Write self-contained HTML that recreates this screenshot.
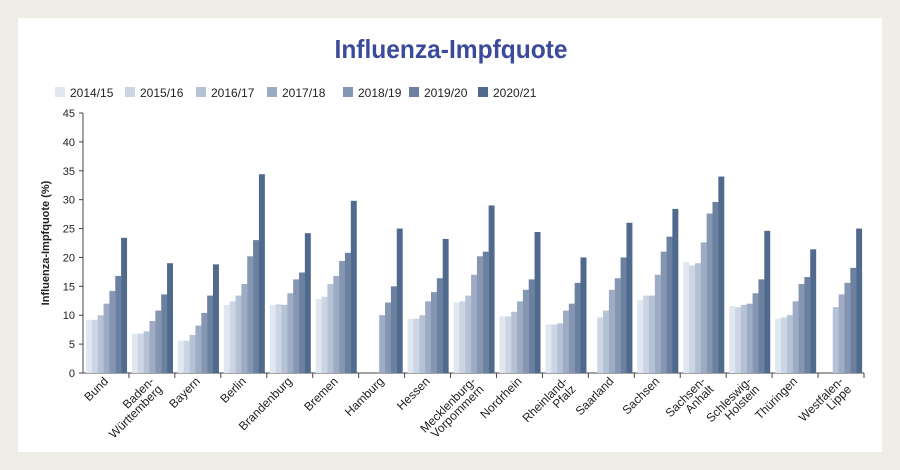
<!DOCTYPE html>
<html><head><meta charset="utf-8"><style>
html,body{margin:0;padding:0;background:#eeede6;}
svg{display:block;font-family:"Liberation Sans",sans-serif;}
</style></head><body>
<svg id="s" width="900" height="470" xmlns="http://www.w3.org/2000/svg">
<rect x="0" y="0" width="900" height="470" fill="#eeede6"/>
<rect x="18" y="18" width="864" height="434" fill="#ffffff"/>
<text x="451" y="58" text-anchor="middle" font-size="26" font-weight="bold" fill="#3b4a9a" textLength="233" lengthAdjust="spacingAndGlyphs">Influenza-Impfquote</text>
<g id="g"></g>
</svg>
<script>
var g=document.getElementById('g'),h='';
var cols=['#e1e7f0','#ccd5e3','#b5c1d5','#9dabc4','#8596b3','#6c80a0','#4f6a8c'];
var leg=['2014/15','2015/16','2016/17','2017/18','2018/19','2019/20','2020/21'];
var lx=[55,125,196,267,343,409,478];
for(var i=0;i<7;i++){h+='<rect x="'+lx[i]+'" y="87" width="10" height="10" fill="'+cols[i]+'"/><text x="'+(lx[i]+15)+'" y="97" font-size="12" fill="#222">'+leg[i]+'</text>';}
var y0=373,k=260/45,ax=83;
h+='<line x1="'+ax+'" y1="113" x2="'+ax+'" y2="'+y0+'" stroke="#444" stroke-width="1"/>';
h+='<line x1="'+ax+'" y1="'+y0+'" x2="864" y2="'+y0+'" stroke="#444" stroke-width="1"/>';
for(var v=0;v<=45;v+=5){var y=y0-v*k;h+='<line x1="'+(ax-4)+'" y1="'+y+'" x2="'+ax+'" y2="'+y+'" stroke="#444"/><text x="'+(ax-8)+'" y="'+(y+4)+'" font-size="11" text-anchor="end" fill="#222">'+v+'</text>';}
h+='<text transform="translate(49,243) rotate(-90)" font-size="11" font-weight="bold" text-anchor="middle" fill="#222">Influenza-Impfquote (%)</text>';
var d=[
['Bund',[9.2,9.2,10,12,14.2,16.8,23.4]],
['Baden-|Württemberg',[6.8,6.8,7.2,9,10.8,13.6,19]],
['Bayern',[5.6,5.6,6.6,8.2,10.4,13.4,18.8]],
['Berlin',[11.8,12.4,13.4,15.4,20.2,23,34.4]],
['Brandenburg',[11.8,11.9,11.8,13.8,16.2,17.4,24.2]],
['Bremen',[12.8,13.2,15.4,16.8,19.4,20.8,29.8]],
['Hamburg',[0,0,0,10,12.2,15,25]],
['Hessen',[9.4,9.4,10,12.4,14,16.4,23.2]],
['Mecklenburg-|Vorpommern',[12.2,12.4,13.4,17,20.2,21,29]],
['Nordrhein',[9.8,9.8,10.6,12.4,14.4,16.2,24.4]],
['Rheinland-|Pfalz',[8.4,8.4,8.6,10.8,12,15.6,20]],
['Saarland',[0,9.6,10.8,14.4,16.4,20,26]],
['Sachsen',[12.6,13.4,13.4,17,21,23.6,28.4]],
['Sachsen-|Anhalt',[19.2,18.6,19,22.6,27.6,29.6,34]],
['Schleswig-|Holstein',[11.6,11.4,11.8,12,13.8,16.2,24.6]],
['Thüringen',[9.4,9.6,10,12.4,15.4,16.6,21.4]],
['Westfalen-|Lippe',[0,0,11.4,13.6,15.6,18.2,25]]];
var gw=(864-83)/17;
for(var j=0;j<17;j++){
 var x0=ax+j*gw;
 h+='<line x1="'+(x0+gw)+'" y1="'+y0+'" x2="'+(x0+gw)+'" y2="'+(y0+5)+'" stroke="#444"/>';
 for(var i=0;i<7;i++){var v=d[j][1][i];if(!v)continue;var bh=v*k;
  h+='<rect x="'+(x0+3+i*5.85).toFixed(2)+'" y="'+(y0-bh).toFixed(2)+'" width="5.95" height="'+bh.toFixed(2)+'" fill="'+cols[i]+'"/>';}
 var L=d[j][0].split('|'),cx=x0+gw/2+3;
 for(var m=0;m<L.length;m++){
  var ox=cx+m*8,oy=382+m*8;
  h+='<text transform="translate('+ox+','+oy+') rotate(-45)" font-size="12" text-anchor="end" fill="#222">'+L[m]+'</text>';}
}
g.innerHTML=h;
</script>
</body></html>
